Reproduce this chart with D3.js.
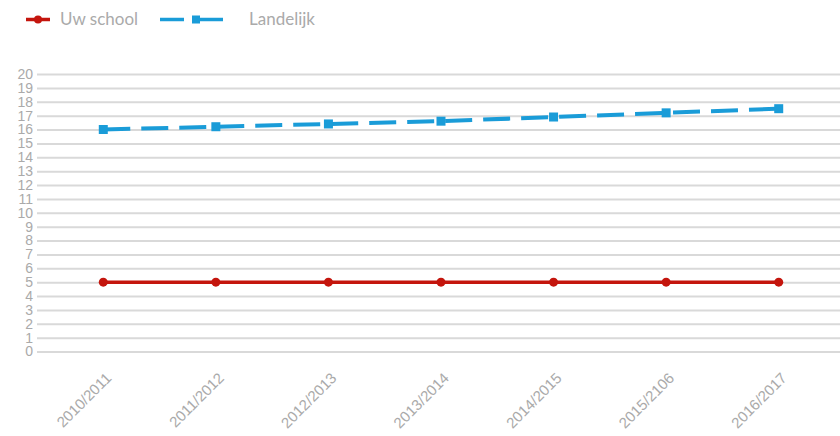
<!DOCTYPE html>
<html lang="nl">
<head>
  <meta charset="UTF-8">
  <title>Uw school vs Landelijk</title>
  <script src="https://d3js.org/d3.v7.min.js"></script>
  <style>
    body { margin: 0; background: #fff; font-family: 'Lato', 'Open Sans', sans-serif; }
    svg { display: block; }
    .tick text { fill: #aaa; }
  </style>
</head>
<body>
  <svg id="chart" width="840" height="436"></svg>

  <script>
    // schooljaren
    const years = ["2010/2011", "2011/2012", "2012/2013", "2013/2014", "2014/2015", "2015/2106", "2016/2017"];
    // waarden per reeks
    const uwSchool = [5, 5, 5, 5, 5, 5, 5];
    const landelijk = [16.0, 16.2, 16.4, 16.6, 16.9, 17.2, 17.5];
    const yTicks = d3.range(0, 21);

    const red = "#c4150d", blue = "#1a9cd8";

    const svg = d3.select("#chart");

    const x = d3.scaleBand().domain(years).range([47, 835]);
    const y = d3.scaleLinear().domain([0, 20]).range([351.5, 74]);

    // gridlines + y labels
    const yAxis = svg.append("g")
      .attr("transform", "translate(37,0)")
      .call(d3.axisLeft(y).tickValues(yTicks).tickSize(-803).tickPadding(4));
    yAxis.select(".domain").remove();
    yAxis.selectAll(".tick line").attr("stroke", "#d9d9d9").attr("stroke-width", 2);
    yAxis.selectAll(".tick text").attr("font-size", 14);

    // x labels
    const xAxis = svg.append("g")
      .attr("transform", "translate(0,366)")
      .call(d3.axisBottom(x).tickSize(0).tickPadding(0));
    xAxis.select(".domain").remove();
    xAxis.selectAll(".tick text")
      .attr("font-size", 15)
      .attr("text-anchor", "end")
      .attr("dy", 0)
      .attr("transform", "translate(9,13) rotate(-45)");

    const cx = d => x(d) + x.bandwidth() / 2;
    const line = d3.line().x((d, i) => cx(years[i])).y(d => y(d));

    // Landelijk
    svg.append("path")
      .datum(landelijk)
      .attr("d", line)
      .attr("fill", "none")
      .attr("stroke", blue)
      .attr("stroke-width", 4)
      .attr("stroke-dasharray", "27 11");
    svg.selectAll(".sq").data(landelijk).join("rect")
      .attr("x", (d, i) => cx(years[i]) - 4.5)
      .attr("y", d => y(d) - 4.5)
      .attr("width", 9).attr("height", 9)
      .attr("fill", blue);

    // Uw school
    svg.append("path")
      .datum(uwSchool)
      .attr("d", line)
      .attr("fill", "none")
      .attr("stroke", red)
      .attr("stroke-width", 3.5);
    svg.selectAll(".dot").data(uwSchool).join("circle")
      .attr("cx", (d, i) => cx(years[i]))
      .attr("cy", d => y(d))
      .attr("r", 4.5)
      .attr("fill", red);

    // legend
    const lg = svg.append("g");
    lg.append("line").attr("x1", 26).attr("x2", 50).attr("y1", 19.5).attr("y2", 19.5)
      .attr("stroke", red).attr("stroke-width", 3.5);
    lg.append("circle").attr("cx", 38).attr("cy", 19.5).attr("r", 4).attr("fill", red);
    lg.append("text").attr("x", 60).attr("y", 25).attr("font-size", 17).attr("fill", "#aaa").text("Uw school");

    lg.append("line").attr("x1", 160).attr("x2", 184).attr("y1", 19.5).attr("y2", 19.5)
      .attr("stroke", blue).attr("stroke-width", 3.5);
    lg.append("line").attr("x1", 192).attr("x2", 223).attr("y1", 19.5).attr("y2", 19.5)
      .attr("stroke", blue).attr("stroke-width", 3.5);
    lg.append("rect").attr("x", 192).attr("y", 15.5).attr("width", 8).attr("height", 8).attr("fill", blue);
    lg.append("text").attr("x", 249).attr("y", 25).attr("font-size", 17).attr("fill", "#aaa").text("Landelijk");
  </script>
</body>
</html>
